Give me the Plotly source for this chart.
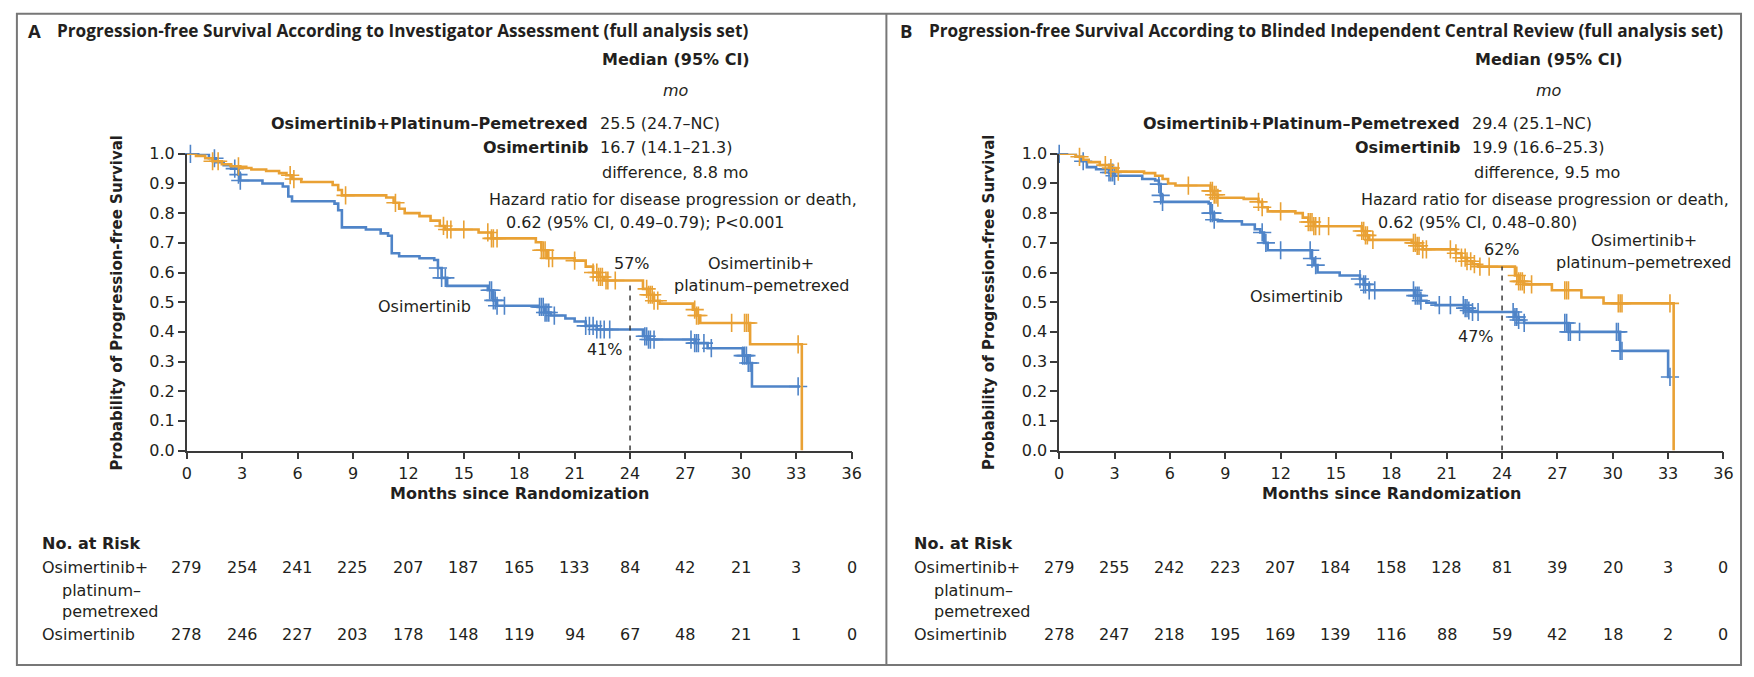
import plotly.graph_objects as go

W, H = 1754, 677

# ---------------- data ----------------
month_ticks = list(range(0, 37, 3))

# Panel A (investigator assessment)
a_combo_t = [0, 0.5, 1.0, 1.4, 1.9, 2.4, 2.9, 3.5, 4.3, 5.0, 5.4, 5.7, 6.2, 7.9, 8.2, 8.4, 10.8, 11.2, 11.5, 11.8,
             12.6, 13.2, 13.7, 14.0, 15.8, 16.5, 18.9, 19.2, 19.5, 21.0, 21.6, 22.0, 22.3, 22.6, 24.7, 25.0, 25.3, 25.6,
             27.4, 27.6, 27.8, 30.5, 33.3]
a_combo_s = [1.0, 0.993, 0.985, 0.975, 0.965, 0.958, 0.952, 0.947, 0.942, 0.935, 0.928, 0.915, 0.905, 0.895, 0.878,
             0.86, 0.853, 0.835, 0.815, 0.80, 0.79, 0.775, 0.757, 0.745, 0.735, 0.715, 0.702, 0.675, 0.648, 0.64, 0.62,
             0.60, 0.585, 0.573, 0.545, 0.525, 0.505, 0.495, 0.475, 0.455, 0.43, 0.358, 0.0]
a_combo_cens = [1.4, 1.7, 2.8, 5.6, 5.8, 8.6, 11.3, 13.9, 14.1, 14.3, 15.0, 16.3, 16.5, 16.6, 16.8, 19.2, 19.3, 19.4,
                19.6, 19.8, 21.0, 22.0, 22.2, 22.3, 22.4, 22.5, 22.7, 22.8, 23.2, 24.9, 25.0, 25.1, 25.2, 25.3, 25.5,
                27.5, 27.6, 27.7, 29.5, 30.2, 30.3, 30.4, 33.1]

a_osi_t = [0, 1.2, 1.6, 2.0, 2.4, 2.8, 2.9, 4.1, 5.2, 5.5, 5.7, 8.0, 8.2, 8.4, 9.7, 10.5, 10.9, 11.1, 11.5, 12.6,
           13.4, 13.6, 13.8, 14.1, 16.3, 16.6, 16.8, 19.0, 19.4, 19.7, 20.5, 21.0, 21.6, 22.2, 24.7, 25.0, 27.5, 28.2,
           30.1, 30.4, 30.6, 33.2]
a_osi_s = [1.0, 0.985, 0.972, 0.962, 0.95, 0.93, 0.91, 0.90, 0.89, 0.856, 0.84, 0.832, 0.81, 0.752, 0.745, 0.732,
           0.724, 0.665, 0.655, 0.648, 0.642, 0.615, 0.582, 0.555, 0.54, 0.506, 0.488, 0.484, 0.465, 0.455, 0.445,
           0.435, 0.42, 0.408, 0.385, 0.374, 0.362, 0.345, 0.32, 0.295, 0.216, 0.216]
a_osi_cens = [0.2, 1.5, 2.6, 2.8, 2.9, 13.6, 13.8, 14.0, 16.4, 16.5, 16.6, 16.7, 16.8, 17.2, 19.1, 19.2, 19.3, 19.4,
              19.5, 19.6, 19.9, 21.6, 21.8, 22.0, 22.2, 22.4, 22.6, 22.9, 24.8, 24.9, 25.0, 25.1, 25.3, 27.3, 27.5,
              27.6, 27.7, 28.0, 28.4, 30.1, 30.2, 30.3, 30.4, 30.5, 33.1]

# Panel B (blinded independent central review)
b_combo_t = [0, 0.9, 1.3, 1.6, 2.2, 2.7, 3.1, 4.6, 5.2, 5.6, 5.9, 6.3, 8.2, 8.4, 8.6, 10.0, 10.8, 11.0, 11.3, 12.8,
             13.2, 13.5, 13.8, 16.4, 16.6, 16.8, 19.1, 19.4, 19.7, 21.5, 21.8, 22.1, 22.4, 22.7, 24.7, 24.9, 25.2, 26.7,
             28.3, 29.5, 33.3]
b_combo_s = [1.0, 0.99, 0.98, 0.972, 0.962, 0.952, 0.94, 0.935, 0.926, 0.915, 0.90, 0.893, 0.875, 0.862, 0.852, 0.848,
             0.838, 0.82, 0.806, 0.80, 0.785, 0.77, 0.756, 0.74, 0.725, 0.71, 0.70, 0.69, 0.678, 0.665, 0.65, 0.638,
             0.628, 0.62, 0.59, 0.57, 0.56, 0.54, 0.516, 0.496, 0.0]
b_combo_cens = [1.1, 2.5, 2.8, 3.2, 7.0, 8.2, 8.3, 8.4, 8.5, 8.6, 10.8, 11.0, 12.0, 13.5, 13.6, 13.7, 13.8, 13.9, 14.1,
                14.6, 16.4, 16.5, 16.6, 16.7, 17.0, 19.2, 19.3, 19.4, 19.5, 19.7, 19.9, 21.2, 21.5, 21.8, 22.0, 22.1,
                22.3, 22.5, 22.8, 23.3, 24.8, 24.9, 25.0, 25.1, 25.2, 25.6, 27.4, 27.5, 27.6, 30.3, 30.4, 30.5, 33.1]

b_osi_t = [0, 0.9, 1.2, 1.5, 2.0, 2.7, 3.0, 4.5, 5.2, 5.4, 5.5, 5.6, 8.1, 8.2, 8.4, 8.6, 9.9, 10.6, 10.9, 11.1, 11.3,
           13.7, 13.8, 14.0, 15.2, 16.3, 16.5, 16.8, 19.3, 19.6, 19.9, 20.4, 22.0, 22.2, 22.4, 24.7, 24.9, 25.2, 27.6,
           30.4, 33.0, 33.1]
b_osi_s = [1.0, 0.99, 0.975, 0.955, 0.948, 0.937, 0.926, 0.915, 0.91, 0.898, 0.86, 0.838, 0.833, 0.80, 0.778, 0.773,
           0.762, 0.746, 0.735, 0.70, 0.675, 0.647, 0.625, 0.60, 0.59, 0.578, 0.56, 0.54, 0.522, 0.505, 0.498, 0.49,
           0.48, 0.472, 0.467, 0.45, 0.44, 0.43, 0.40, 0.336, 0.248, 0.248]
b_osi_cens = [0.0, 1.3, 2.7, 2.8, 2.9, 3.0, 5.4, 5.5, 5.6, 8.2, 8.3, 8.4, 11.0, 11.2, 12.0, 13.6, 13.7, 13.9, 16.3,
              16.5, 16.6, 16.8, 17.1, 19.2, 19.3, 19.4, 19.5, 19.6, 20.6, 21.2, 21.9, 22.0, 22.1, 22.2, 22.4, 22.7,
              24.6, 24.7, 24.8, 24.9, 25.2, 27.4, 27.5, 27.6, 27.7, 28.2, 30.2, 30.3, 30.4, 30.5, 33.1]

risk_a_combo = [279, 254, 241, 225, 207, 187, 165, 133, 84, 42, 21, 3, 0]
risk_a_osi = [278, 246, 227, 203, 178, 148, 119, 94, 67, 48, 21, 1, 0]
risk_b_combo = [279, 255, 242, 223, 207, 184, 158, 128, 81, 39, 20, 3, 0]
risk_b_osi = [278, 247, 218, 195, 169, 139, 116, 88, 59, 42, 18, 2, 0]

landmark_month = 24
a_landmark = [0.57, 0.41]
b_landmark = [0.62, 0.47]

ORANGE = "#E9A134"
BLUE = "#4F84C8"
TXT = "#231F20"
AX = "#3a3a3a"
FONT = "DejaVu Sans"
TFONT = "Open Sans"


def PX(x):
    return x / W


def PY(y):
    return 1 - y / H


def surv_at(ts, ss, t):
    v = ss[0]
    for ti, si in zip(ts, ss):
        if ti <= t:
            v = si
        else:
            break
    return v


fig = go.Figure()

panels = [
    dict(xa="x", ya="y", ct=a_combo_t, cs=a_combo_s, cc=a_combo_cens,
         ot=a_osi_t, os=a_osi_s, oc=a_osi_cens, lm=a_landmark),
    dict(xa="x2", ya="y2", ct=b_combo_t, cs=b_combo_s, cc=b_combo_cens,
         ot=b_osi_t, os=b_osi_s, oc=b_osi_cens, lm=b_landmark),
]

for p in panels:
    for t, s, c, col in [(p["ot"], p["os"], p["oc"], BLUE), (p["ct"], p["cs"], p["cc"], ORANGE)]:
        fig.add_trace(go.Scatter(x=t, y=s, mode="lines", line=dict(color=col, width=2.6, shape="hv"),
                                 xaxis=p["xa"], yaxis=p["ya"], cliponaxis=False, showlegend=False,
                                 hoverinfo="skip"))
        fig.add_trace(go.Scatter(x=c, y=[surv_at(t, s, v) for v in c], mode="markers",
                                 marker=dict(symbol="cross-thin", size=13, line=dict(color=col, width=1.6)),
                                 xaxis=p["xa"], yaxis=p["ya"], cliponaxis=False, showlegend=False,
                                 hoverinfo="skip"))
    fig.add_trace(go.Scatter(x=[landmark_month, landmark_month], y=[0, max(p["lm"])], mode="lines",
                             line=dict(color=AX, width=1.5, dash="5px,5px"),
                             xaxis=p["xa"], yaxis=p["ya"], showlegend=False, hoverinfo="skip"))

y_dom = [PY(454.3), PY(149)]
axis_common = dict(showgrid=False, zeroline=False, showline=True, linecolor=AX, linewidth=1.5,
                   ticks="outside", ticklen=7, tickwidth=1.5, tickcolor=AX,
                   tickfont=dict(family=FONT, size=16, color=TXT))
fig.update_layout(
    width=W, height=H, margin=dict(l=0, r=0, t=0, b=0), autosize=False,
    paper_bgcolor="white", plot_bgcolor="white",
    xaxis=dict(domain=[PX(183.3), PX(854)], range=[0, 36], tickvals=month_ticks, anchor="y", **axis_common),
    yaxis=dict(domain=y_dom, range=[0, 1], dtick=0.1, tick0=0, tickformat=".1f", anchor="x", **axis_common),
    xaxis2=dict(domain=[PX(1063.3), PX(1733.3)], range=[0, 36], tickvals=month_ticks, anchor="y2", **axis_common),
    yaxis2=dict(domain=y_dom, range=[0, 1], dtick=0.1, tick0=0, tickformat=".1f", anchor="x2", **axis_common),
)

ann = []


def text(x, y, s, size=16, anchor="left", family=FONT, angle=0, xref="paper", color=TXT):
    ann.append(dict(x=PX(x) if xref == "paper" else x, y=PY(y), xref=xref, yref="paper", text=s,
                    showarrow=False, xanchor=anchor, yanchor="middle", textangle=angle,
                    font=dict(family=family, size=size, color=color)))


panel_info = [
    dict(off=0, letter="A", title="Progression-free Survival According to Investigator Assessment (full analysis set)",
         combo="25.5 (24.7–NC)", osi="16.7 (14.1–21.3)", diff="difference, 8.8 mo",
         hr2="0.62 (95% CI, 0.49–0.79); P<0.001", xref="x",
         risk_c=risk_a_combo, risk_o=risk_a_osi,
         pct=[("57%", 632, 262), ("41%", 605, 350)],
         lab_c=(763, 262, 284), lab_o=(423, 306)),
    dict(off=880, letter="B", title="Progression-free Survival According to Blinded Independent Central Review (full analysis set)",
         combo="29.4 (25.1–NC)", osi="19.9 (16.6–25.3)", diff="difference, 9.5 mo",
         hr2="0.62 (95% CI, 0.48–0.80)", xref="x2",
         risk_c=risk_b_combo, risk_o=risk_b_osi,
         pct=[("62%", 1510, 247), ("47%", 1484, 337)],
         lab_c=(1653, 238, 261), lab_o=(1303, 296)),
]

for pi in panel_info:
    o = pi["off"]
    text(21 + o, 22, "<b>" + pi["letter"] + "</b>", size=18.5, family=TFONT)
    text(50 + o, 22, "<b>" + pi["title"] + "</b>", size=17.2, family=TFONT)
    text(677 + o, 52, "<b>Median (95% CI)</b>", anchor="center")
    text(677 + o, 84, "<i>mo</i>", anchor="center")
    text(590 + o, 118, "<b>Osimertinib+Platinum–Pemetrexed</b>", anchor="right")
    text(598 + o, 118, pi["combo"])
    text(590 + o, 143, "<b>Osimertinib</b>", anchor="right")
    text(598 + o, 143, pi["osi"])
    text(600 + o, 168, pi["diff"])
    text(486 + o, 196, "Hazard ratio for disease progression or death,")
    text(503 + o, 220, pi["hr2"])
    for s, x, y in pi["pct"]:
        text(x, y, s, anchor="center")
    cx, cy1, cy2 = pi["lab_c"]
    text(cx, cy1, "Osimertinib+", anchor="center")
    text(cx, cy2, "platinum–pemetrexed", anchor="center")
    text(pi["lab_o"][0], pi["lab_o"][1], "Osimertinib", anchor="center")
    text(112 + o, 302, "<b>Probability of Progression-free Survival</b>", size=15, anchor="center", angle=-90)
    text(518.5 + o, 499, "<b>Months since Randomization</b>", anchor="center")
    text(35 + o, 550, "<b>No. at Risk</b>")
    text(35 + o, 575, "Osimertinib+")
    text(55 + o, 598, "platinum–")
    text(55 + o, 620, "pemetrexed")
    text(35 + o, 644, "Osimertinib")
    for m, rc, ro in zip(month_ticks, pi["risk_c"], pi["risk_o"]):
        text(m, 575, str(rc), anchor="center", xref=pi["xref"])
        text(m, 644, str(ro), anchor="center", xref=pi["xref"])

fig.update_layout(annotations=ann)

shapes = [
    dict(type="rect", xref="paper", yref="paper", x0=PX(12), x1=PX(1751), y0=PY(675), y1=PY(5),
         line=dict(color="#777777", width=2)),
    dict(type="line", xref="paper", yref="paper", x0=PX(889), x1=PX(889), y0=PY(675), y1=PY(5),
         line=dict(color="#777777", width=2)),
]
fig.update_layout(shapes=shapes)

fig.write_html("out.html")
